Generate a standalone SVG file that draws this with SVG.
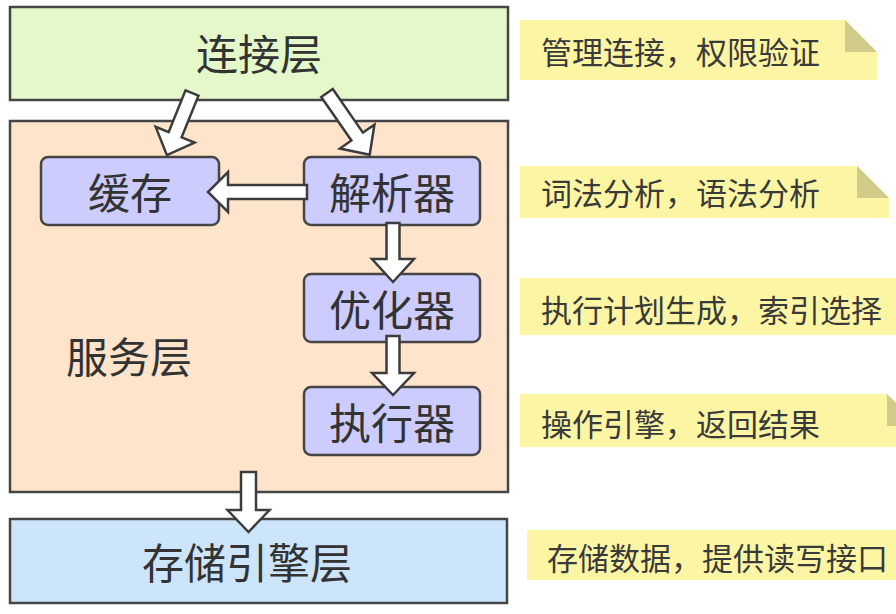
<svg xmlns="http://www.w3.org/2000/svg" width="896" height="614" viewBox="0 0 896 614">
<style>
.box{stroke:#454545;stroke-width:2.5}
.layer{font-family:"Noto Sans CJK SC","Noto Sans",sans-serif;font-size:42px;fill:#333;text-anchor:middle;dominant-baseline:central}
.note{fill:#fcf6a4}
.fold{fill:#d1cb8a}
.ntext{font-family:"Noto Sans CJK SC","Noto Sans",sans-serif;font-size:31px;fill:#3a3a3a;dominant-baseline:central}
.arrow{fill:#ffffff;stroke:#3c3c3c;stroke-width:2.5;stroke-linejoin:miter}
</style>
<rect width="896" height="614" fill="#ffffff"/>
<g id="connection-layer">
<rect class="box" x="10" y="7" width="498" height="93" fill="#e5f8ca"/>
<text class="layer" x="259" y="51">连接层</text>
</g>
<g id="service-layer">
<rect class="box" x="10" y="121" width="498" height="371" fill="#fde4cb"/>
<text class="layer" x="129" y="354">服务层</text>
</g>
<g id="storage-layer">
<rect class="box" x="10" y="519" width="497" height="84" fill="#cde5fb"/>
<text class="layer" x="247" y="560">存储引擎层</text>
</g>
<g id="cache">
<rect class="box" x="41" y="157" width="178" height="68" rx="7" fill="#ccccfe"/>
<text class="layer" x="130" y="190">缓存</text>
</g>
<g id="parser">
<rect class="box" x="304" y="157" width="176" height="68" rx="7" fill="#ccccfe"/>
<text class="layer" x="392" y="190">解析器</text>
</g>
<g id="optimizer">
<rect class="box" x="304" y="274" width="176" height="68" rx="7" fill="#ccccfe"/>
<text class="layer" x="392" y="307">优化器</text>
</g>
<g id="executor">
<rect class="box" x="304" y="387" width="176" height="68" rx="7" fill="#ccccfe"/>
<text class="layer" x="392" y="420">执行器</text>
</g>
<g id="connectors">
<path class="arrow" transform="translate(192,93) rotate(112)" d="M0,-7 L45,-7 L45,-21 L67,0 L45,21 L45,7 L0,7 Z"/>
<path class="arrow" transform="translate(327,93) rotate(55.3)" d="M0,-7 L53,-7 L53,-21 L75,0 L53,21 L53,7 L0,7 Z"/>
<path class="arrow" transform="translate(307,192) rotate(180)" d="M0,-7 L79,-7 L79,-20 L99,0 L79,20 L79,7 L0,7 Z"/>
<path class="arrow" transform="translate(393,223) rotate(90)" d="M0,-6.5 L36,-6.5 L36,-21 L59,0 L36,21 L36,6.5 L0,6.5 Z"/>
<path class="arrow" transform="translate(393,336) rotate(90)" d="M0,-6.5 L37,-6.5 L37,-21 L59,0 L37,21 L37,6.5 L0,6.5 Z"/>
<path class="arrow" transform="translate(248.5,472) rotate(90)" d="M0,-7.5 L38,-7.5 L38,-21 L60,0 L38,21 L38,7.5 L0,7.5 Z"/>
</g>
<g id="note-connection">
<path class="note" d="M520,20 L845,20 L877,52 L877,80 L520,80 Z"/>
<path class="fold" d="M845,20 L845,52 L877,52 Z"/>
<text class="ntext" x="541" y="50">管理连接，权限验证</text>
</g>
<g id="note-parser">
<path class="note" d="M520,166 L857,166 L889,198 L889,218 L520,218 Z"/>
<path class="fold" d="M857,166 L857,198 L889,198 Z"/>
<text class="ntext" x="541" y="191">词法分析，语法分析</text>
</g>
<g id="note-optimizer">
<path class="note" d="M520,278 L930,278 L930,335 L520,335 Z"/>
<text class="ntext" x="541" y="308">执行计划生成，索引选择</text>
</g>
<g id="note-executor">
<path class="note" d="M520,394 L887,394 L919,426 L919,447 L520,447 Z"/>
<path class="fold" d="M887,394 L887,426 L919,426 Z"/>
<text class="ntext" x="541" y="422">操作引擎，返回结果</text>
</g>
<g id="note-storage">
<path class="note" d="M527,530 L930,530 L930,580 L527,580 Z"/>
<text class="ntext" x="547" y="556">存储数据，提供读写接口</text>
</g>
</svg>
